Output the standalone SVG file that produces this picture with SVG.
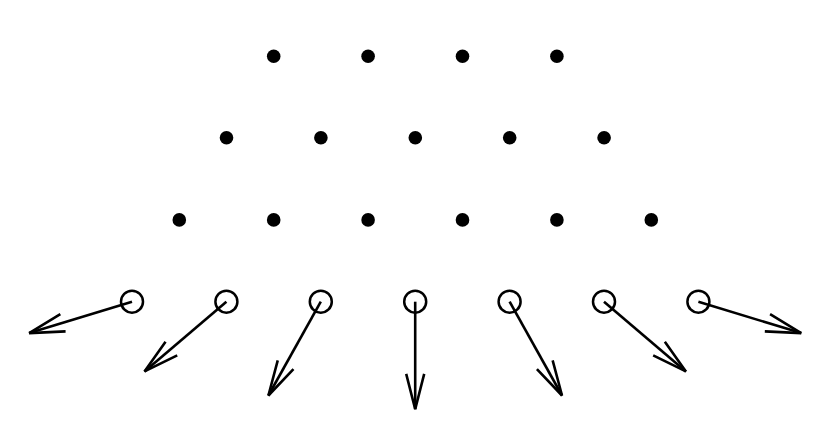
<svg xmlns="http://www.w3.org/2000/svg" width="830" height="446" viewBox="0 0 830 446">
<style>
.dot{fill:#000}
.ring{fill:none;stroke:#000;stroke-width:2.5}
.arr{fill:none;stroke:#000;stroke-width:2.6;marker-end:url(#head)}
</style>
<defs>
<marker id="head" markerUnits="userSpaceOnUse" markerWidth="40" markerHeight="24" refX="0" refY="0" orient="auto" overflow="visible" viewBox="-38 -12 40 24">
<path d="M-35.3,-9 L0,0 L-35.3,9" fill="none" stroke="#000" stroke-width="2.6" stroke-linejoin="miter"/>
</marker>
</defs>
<rect width="830" height="446" fill="#fff"/>
<g id="row1">
<circle class="dot" cx="273.7" cy="56.2" r="6.8"/>
<circle class="dot" cx="368.1" cy="56.2" r="6.8"/>
<circle class="dot" cx="462.5" cy="56.2" r="6.8"/>
<circle class="dot" cx="556.9" cy="56.2" r="6.8"/>
</g>
<g id="row2">
<circle class="dot" cx="226.5" cy="137.8" r="6.8"/>
<circle class="dot" cx="320.9" cy="137.8" r="6.8"/>
<circle class="dot" cx="415.3" cy="137.8" r="6.8"/>
<circle class="dot" cx="509.7" cy="137.8" r="6.8"/>
<circle class="dot" cx="604.1" cy="137.8" r="6.8"/>
</g>
<g id="row3">
<circle class="dot" cx="179.3" cy="219.9" r="6.8"/>
<circle class="dot" cx="273.7" cy="219.9" r="6.8"/>
<circle class="dot" cx="368.1" cy="219.9" r="6.8"/>
<circle class="dot" cx="462.5" cy="219.9" r="6.8"/>
<circle class="dot" cx="556.9" cy="219.9" r="6.8"/>
<circle class="dot" cx="651.3" cy="219.9" r="6.8"/>
</g>
<g id="row4">
<circle class="ring" cx="132" cy="301.7" r="11"/>
<circle class="ring" cx="226.4" cy="301.7" r="11"/>
<circle class="ring" cx="320.8" cy="301.7" r="11"/>
<circle class="ring" cx="415.2" cy="301.7" r="11"/>
<circle class="ring" cx="509.6" cy="301.7" r="11"/>
<circle class="ring" cx="604" cy="301.7" r="11"/>
<circle class="ring" cx="698.4" cy="301.7" r="11"/>
</g>
<g id="connectors">
<path class="arr" d="M132,301.7 L29.2,333.1"/>
<path class="arr" d="M226.4,301.7 L144.5,371.4"/>
<path class="arr" d="M320.8,301.7 L268.4,395.5"/>
<path class="arr" d="M415.2,301.7 L415.2,409.2"/>
<path class="arr" d="M509.6,301.7 L562,395.5"/>
<path class="arr" d="M604,301.7 L685.9,371.4"/>
<path class="arr" d="M698.4,301.7 L801.2,333.1"/>
</g>
</svg>
